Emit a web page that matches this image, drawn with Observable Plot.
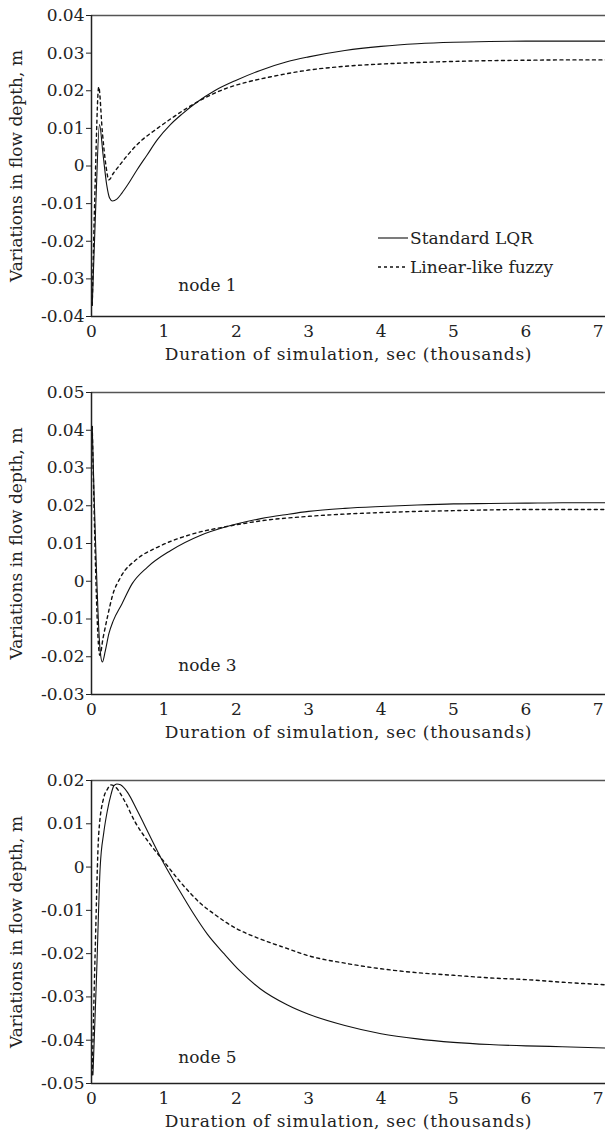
<!DOCTYPE html>
<html><head><meta charset="utf-8">
<script src="https://cdn.jsdelivr.net/npm/d3@7"></script>
<script src="https://cdn.jsdelivr.net/npm/@observablehq/plot@0.6"></script>
<style>
body{margin:0;background:#fff;font-family:"DejaVu Serif",serif;}
#wrap{position:relative;width:605px;height:1137px;}
#wrap svg{display:block}
#wrap svg text{font-size:17px}
</style></head><body><div id="wrap"></div>
<script>
// ---- labels ----
const xLabel = "Duration of simulation, sec (thousands)";
const yLabel = "Variations in flow depth, m";
const seriesNames = ["Standard LQR", "Linear-like fuzzy"];
const nodeNames = ["node 1", "node 3", "node 5"];
const xTicks = [0, 1, 2, 3, 4, 5, 6, 7];
const xDomain = [0, 7.1];

// ---- node 1 ----
const yTicks1 = [-0.04, -0.03, -0.02, -0.01, 0, 0.01, 0.02, 0.03, 0.04];
const lqrT1 = [0.01, 0.06, 0.11, 0.16, 0.21, 0.25, 0.29, 0.35, 0.42, 0.5, 0.63, 0.77, 0.91, 1.09, 1.25, 1.46, 1.7, 2.0, 2.33, 2.7, 3.0, 3.5, 4.0, 4.5, 5.0, 5.5, 6.0, 6.5, 7.1];
const lqrV1 = [-0.037, -0.01, 0.011, 0.003, -0.005, -0.0085, -0.0093, -0.0088, -0.0072, -0.005, -0.001, 0.003, 0.007, 0.011, 0.0138, 0.017, 0.020, 0.0228, 0.0254, 0.0277, 0.029, 0.0307, 0.0318, 0.0325, 0.0329, 0.0331, 0.0332, 0.0332, 0.0332];
const fzT1 = [0.01, 0.05, 0.1, 0.15, 0.2, 0.24, 0.3, 0.4, 0.49, 0.68, 0.91, 1.13, 1.46, 1.87, 2.15, 2.5, 3.0, 3.5, 4.0, 4.5, 5.0, 5.5, 6.0, 6.5, 7.1];
const fzV1 = [-0.037, -0.005, 0.021, 0.009, 0.000, -0.0037, -0.002, 0.0005, 0.0027, 0.0066, 0.010, 0.013, 0.017, 0.0207, 0.0223, 0.0238, 0.0255, 0.0265, 0.0271, 0.0275, 0.0278, 0.028, 0.0281, 0.0282, 0.0282];

// ---- node 3 ----
const yTicks3 = [-0.03, -0.02, -0.01, 0, 0.01, 0.02, 0.03, 0.04, 0.05];
const lqrT3 = [0.01, 0.12, 0.15, 0.19, 0.24, 0.3, 0.42, 0.56, 0.77, 1.09, 1.51, 1.87, 2.34, 2.7, 3.0, 3.5, 4.0, 4.5, 5.0, 5.5, 6.0, 6.5, 7.1];
const lqrV3 = [0.041, -0.0185, -0.0214, -0.0185, -0.0139, -0.0105, -0.006, -0.0007, 0.0037, 0.0081, 0.0122, 0.0145, 0.0166, 0.0177, 0.0185, 0.0193, 0.0198, 0.0202, 0.0205, 0.0206, 0.0207, 0.0208, 0.0208];
const fzT3 = [0.01, 0.115, 0.16, 0.22, 0.29, 0.4, 0.63, 0.91, 1.41, 1.87, 2.34, 3.0, 3.5, 4.0, 4.5, 5.0, 5.5, 6.0, 6.5, 7.1];
const fzV3 = [0.041, -0.0196, -0.015, -0.0095, -0.0038, 0.001, 0.0059, 0.009, 0.0126, 0.0145, 0.016, 0.0172, 0.0178, 0.0182, 0.0185, 0.0187, 0.0189, 0.019, 0.019, 0.019];

// ---- node 5 ----
const yTicks5 = [-0.05, -0.04, -0.03, -0.02, -0.01, 0, 0.01, 0.02];
const lqrT5 = [0.02, 0.07, 0.12, 0.17, 0.22, 0.27, 0.31, 0.35, 0.4, 0.5, 0.63, 0.815, 1.0, 1.2, 1.41, 1.6, 1.83, 2.05, 2.33, 2.7, 3.0, 3.5, 4.0, 4.5, 5.0, 5.5, 6.0, 6.5, 7.1];
const lqrV5 = [-0.048, -0.025, 0.0, 0.008, 0.0131, 0.0168, 0.0188, 0.0192, 0.019, 0.0172, 0.0131, 0.0069, 0.0008, -0.005, -0.0108, -0.0155, -0.020, -0.024, -0.0281, -0.0318, -0.034, -0.0366, -0.0385, -0.0397, -0.0405, -0.041, -0.0413, -0.0415, -0.0418];
const fzT5 = [0.01, 0.05, 0.1, 0.17, 0.22, 0.27, 0.33, 0.45, 0.6, 0.8, 1.0, 1.23, 1.5, 1.69, 2.0, 2.33, 2.7, 3.0, 3.5, 4.0, 4.5, 5.0, 5.5, 6.0, 6.5, 7.1];
const fzV5 = [-0.048, -0.02, 0.0077, 0.0161, 0.018, 0.019, 0.0185, 0.0155, 0.0105, 0.0055, 0.0013, -0.0035, -0.0083, -0.0108, -0.0142, -0.0166, -0.0188, -0.0205, -0.0222, -0.0235, -0.0244, -0.025, -0.0256, -0.026, -0.0266, -0.0272];

const panels = [
  {node: nodeNames[0], ticks: yTicks1, lqrT: lqrT1, lqrV: lqrV1, fzT: fzT1, fzV: fzV1, height: 378, mt: 15, mb: 62, nodeDy: -31},
  {node: nodeNames[1], ticks: yTicks3, lqrT: lqrT3, lqrV: lqrV3, fzT: fzT3, fzV: fzV3, height: 380, mt: 14, mb: 64, nodeDy: -29},
  {node: nodeNames[2], ticks: yTicks5, lqrT: lqrT5, lqrV: lqrV5, fzT: fzT5, fzV: fzV5, height: 379, mt: 22, mb: 54, nodeDy: -26}
];

const fmt = d => d === 0 ? "0" : d.toFixed(2);
const font = '"DejaVu Serif", serif';

function panel(p) {
  const dom = d3.extent(p.ticks);
  const lqr = p.lqrT.map((t, i) => ({t, v: p.lqrV[i]}));
  const fz = p.fzT.map((t, i) => ({t, v: p.fzV[i]}));
  const svg = Plot.plot({
    width: 605, height: p.height,
    marginLeft: 91, marginRight: 0, marginTop: p.mt, marginBottom: p.mb,
    style: {fontFamily: font, fontSize: "17px", color: "#222", background: "#fff", overflow: "visible"},
    x: {domain: xDomain},
    y: {domain: dom},
    marks: [
      Plot.axisX({ticks: xTicks, tickSize: 0, tickPadding: 8, tickFormat: d => String(d), label: xLabel, labelAnchor: "center", labelOffset: 43, labelArrow: "none"}),
      Plot.axisY({ticks: p.ticks, tickSize: 5, tickPadding: 2, tickFormat: fmt, label: yLabel, labelAnchor: "center", labelOffset: 82, labelArrow: "none"}),
      Plot.ruleY([dom[0]], {stroke: "#222", strokeWidth: 1.3}),
      Plot.ruleY([dom[1]], {stroke: "#555", strokeWidth: 1.5}),
      Plot.ruleX([0], {stroke: "#222", strokeWidth: 1.5}),
      Plot.line(lqr, {x: "t", y: "v", stroke: "#111", strokeWidth: 1.1, curve: "monotone-x"}),
      Plot.line(fz, {x: "t", y: "v", stroke: "#111", strokeWidth: 1.4, strokeDasharray: "3,3.5", curve: "monotone-x"}),
      Plot.text([p.node], {frameAnchor: "bottom-left", dx: 116, dy: p.nodeDy, textAnchor: "middle", lineAnchor: "middle", fill: "#222"})
    ]
  });
  // widen the x-axis title a little, like the reference typesetting
  svg.querySelectorAll("text").forEach(t => { if (t.textContent === xLabel) t.style.letterSpacing = "0.7px"; });
  return svg;
}

const wrap = document.getElementById("wrap");
panels.forEach(p => wrap.appendChild(panel(p)));

// legend (inside first panel)
const ns = "http://www.w3.org/2000/svg";
const leg = document.createElementNS(ns, "svg");
leg.setAttribute("width", 230); leg.setAttribute("height", 60);
leg.style.position = "absolute"; leg.style.left = "375px"; leg.style.top = "223px";
leg.style.fontFamily = font;
seriesNames.forEach((name, i) => {
  const y = 15 + i * 29;
  const l = document.createElementNS(ns, "line");
  l.setAttribute("x1", 3); l.setAttribute("x2", 33); l.setAttribute("y1", y); l.setAttribute("y2", y);
  l.setAttribute("stroke", "#111"); l.setAttribute("stroke-width", i ? 1.4 : 1.1);
  if (i) l.setAttribute("stroke-dasharray", "3,3");
  leg.appendChild(l);
  const t = document.createElementNS(ns, "text");
  t.setAttribute("x", 35); t.setAttribute("y", y); t.setAttribute("dy", "0.35em");
  t.setAttribute("fill", "#222");
  t.textContent = name;
  leg.appendChild(t);
});
wrap.appendChild(leg);
</script></body></html>
